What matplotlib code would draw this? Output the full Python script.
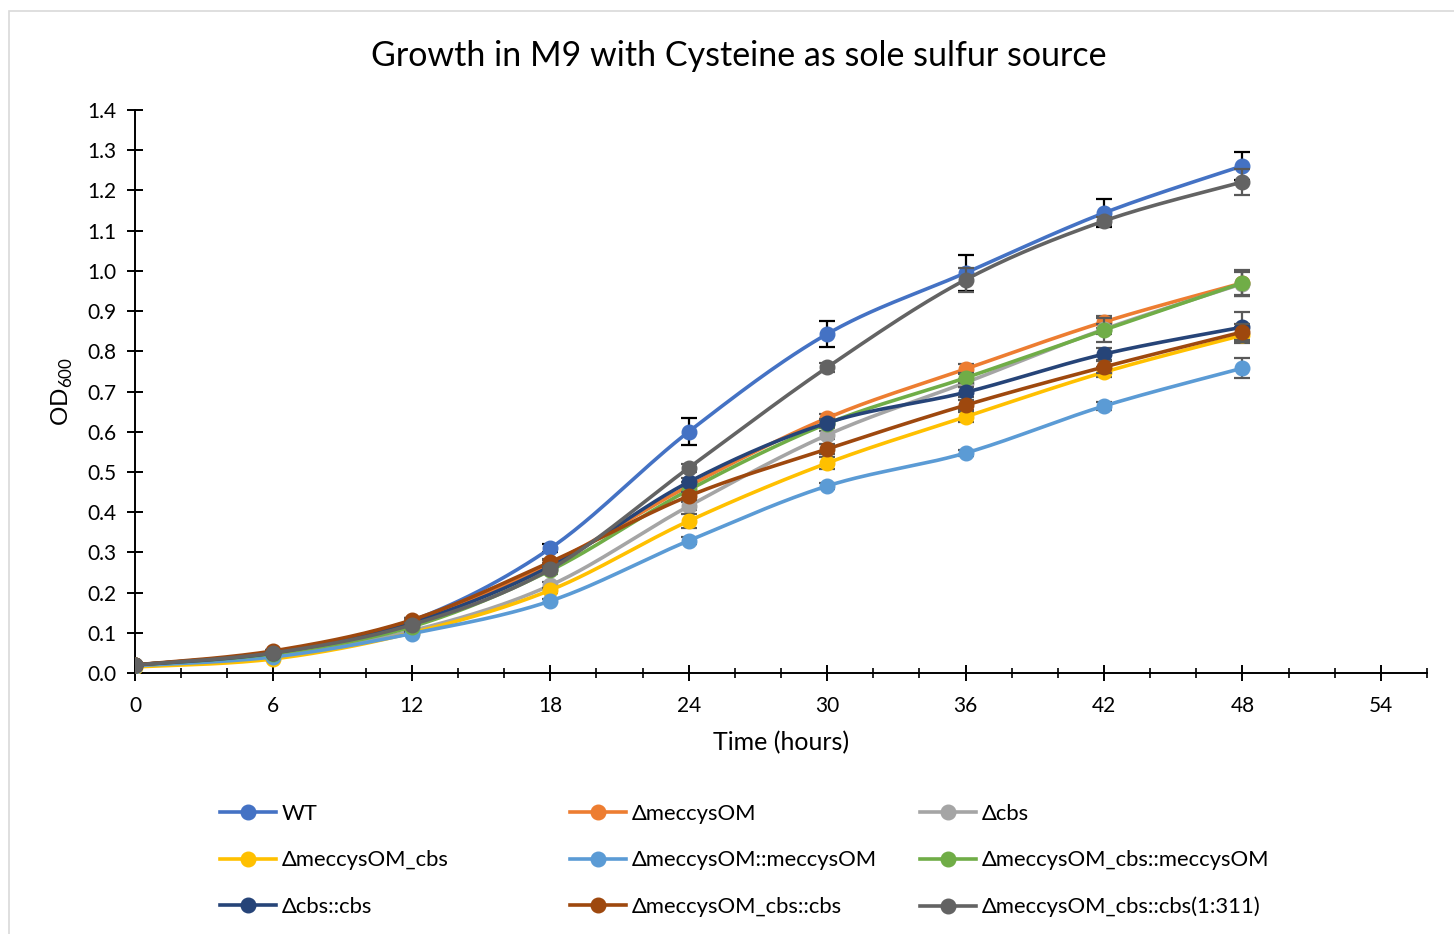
import numpy as np
import matplotlib
matplotlib.use("Agg")
import matplotlib.pyplot as plt
from matplotlib.patches import Rectangle

plt.rcParams['font.family'] = ['Lato', 'DejaVu Sans']
plt.rcParams['mathtext.fontset'] = 'custom'
plt.rcParams['mathtext.rm'] = 'Lato'

# dane
czas = [0, 6, 12, 18, 24, 30, 36, 42, 48]

nazwy = ["WT", "ΔmeccysOM", "Δcbs",
         "ΔmeccysOM_cbs", "ΔmeccysOM::meccysOM", "ΔmeccysOM_cbs::meccysOM",
         "Δcbs::cbs", "ΔmeccysOM_cbs::cbs", "ΔmeccysOM_cbs::cbs(1:311)"]

wt = [0.020, 0.052, 0.130, 0.310, 0.600, 0.843, 0.995, 1.144, 1.261]
meccysOM = [0.020, 0.052, 0.130, 0.272, 0.465, 0.634, 0.756, 0.873, 0.970]
cbs = [0.020, 0.045, 0.105, 0.218, 0.415, 0.592, 0.722, 0.855, 0.968]
meccysOM_cbs = [0.015, 0.035, 0.100, 0.206, 0.378, 0.522, 0.637, 0.748, 0.840]
meccysOM_comp = [0.018, 0.040, 0.098, 0.179, 0.329, 0.465, 0.547, 0.664, 0.758]
meccysOM_cbs_meccysOM = [0.020, 0.048, 0.115, 0.255, 0.455, 0.620, 0.734, 0.853, 0.970]
cbs_cbs = [0.020, 0.050, 0.125, 0.265, 0.475, 0.622, 0.698, 0.793, 0.860]
meccysOM_cbs_cbs = [0.020, 0.055, 0.132, 0.276, 0.440, 0.557, 0.666, 0.761, 0.848]
cbs_311 = [0.020, 0.050, 0.120, 0.258, 0.510, 0.760, 0.978, 1.124, 1.221]

# odchylenia (słupki błędów)
err_wt = [0.0, 0.004, 0.006, 0.010, 0.034, 0.033, 0.045, 0.035, 0.035]
err_meccysOM = [0.0, 0.003, 0.005, 0.008, 0.010, 0.010, 0.012, 0.015, 0.030]
err_cbs = [0.0, 0.003, 0.005, 0.008, 0.010, 0.010, 0.010, 0.012, 0.030]
err_meccysOM_cbs = [0.0, 0.003, 0.004, 0.006, 0.018, 0.015, 0.012, 0.013, 0.020]
err_meccysOM_comp = [0.0, 0.003, 0.004, 0.006, 0.008, 0.008, 0.008, 0.010, 0.025]
err_meccysOM_cbs_meccysOM = [0.0, 0.003, 0.005, 0.008, 0.010, 0.010, 0.012, 0.030, 0.033]
err_cbs_cbs = [0.0, 0.003, 0.005, 0.008, 0.010, 0.010, 0.012, 0.015, 0.038]
err_meccysOM_cbs_cbs = [0.0, 0.003, 0.005, 0.008, 0.010, 0.012, 0.012, 0.015, 0.020]
err_cbs_311 = [0.0, 0.003, 0.005, 0.008, 0.010, 0.012, 0.030, 0.010, 0.033]

serie = [wt, meccysOM, cbs, meccysOM_cbs, meccysOM_comp, meccysOM_cbs_meccysOM,
         cbs_cbs, meccysOM_cbs_cbs, cbs_311]
bledy = [err_wt, err_meccysOM, err_cbs, err_meccysOM_cbs, err_meccysOM_comp,
         err_meccysOM_cbs_meccysOM, err_cbs_cbs, err_meccysOM_cbs_cbs, err_cbs_311]
kolory = ['#4472C4', '#ED7D31', '#A5A5A5', '#FFC000', '#5B9BD5', '#70AD47',
          '#264478', '#9E480E', '#636363']


def wygladz(x, y, n=30):
    # gładka linia jak w Excelu (krzywe Beziera / Catmull-Rom)
    x = np.asarray(x, float)
    y = np.asarray(y, float)
    px, py = [], []
    for i in range(len(x) - 1):
        x0, y0 = (x[i - 1], y[i - 1]) if i > 0 else (x[i], y[i])
        x3, y3 = (x[i + 2], y[i + 2]) if i + 2 < len(x) else (x[i + 1], y[i + 1])
        c1x = x[i] + (x[i + 1] - x0) / 6
        c1y = y[i] + (y[i + 1] - y0) / 6
        c2x = x[i + 1] - (x3 - x[i]) / 6
        c2y = y[i + 1] - (y3 - y[i]) / 6
        t = np.linspace(0, 1, n)
        b0 = (1 - t) ** 3
        b1 = 3 * (1 - t) ** 2 * t
        b2 = 3 * (1 - t) * t ** 2
        b3 = t ** 3
        px.extend(b0 * x[i] + b1 * c1x + b2 * c2x + b3 * x[i + 1])
        py.extend(b0 * y[i] + b1 * c1y + b2 * c2y + b3 * y[i + 1])
    return px, py


fig = plt.figure(figsize=(14.54, 9.34), dpi=100)
fig.patches.append(Rectangle((9 / 1454, -0.05), 1.1, 1 - 11 / 934 + 0.05,
                             transform=fig.transFigure, fill=False,
                             edgecolor='#D9D9D9', linewidth=1.2))
ax = fig.add_axes([135 / 1454, 1 - 673 / 934, (1427 - 135) / 1454, (673 - 110) / 934])

uchwyty = []
for i in range(len(serie)):
    sx, sy = wygladz(czas, serie[i])
    kolor_bledu = 'black' if i == 0 else '#595959'
    ax.errorbar(czas, serie[i], yerr=bledy[i], fmt='none', ecolor=kolor_bledu,
                elinewidth=1.6, capsize=6, capthick=1.6, zorder=2 + i)
    ax.plot(sx, sy, color=kolory[i], linewidth=2.6, zorder=2 + i)
    ax.plot(czas, serie[i], 'o', color=kolory[i], markersize=10.5, zorder=2 + i)
    h, = ax.plot([], [], '-o', color=kolory[i], linewidth=2.6, markersize=10.5)
    uchwyty.append(h)

ax.set_xlim(0, 56)
ax.set_ylim(0, 1.4)
ax.set_xticks(range(0, 55, 6))
ax.set_xticks(range(0, 57, 2), minor=True)
ax.set_yticks(np.arange(0, 1.41, 0.1))
ax.set_yticklabels([f"{v:.1f}" for v in np.arange(0, 1.41, 0.1)])
ax.tick_params(axis='both', which='major', direction='inout', length=11, width=1.4,
               labelsize=15, color='black')
ax.tick_params(axis='x', which='minor', direction='inout', length=7, width=1.2)
ax.tick_params(axis='x', which='major', pad=11)
ax.tick_params(axis='y', which='major', pad=8)
for s in ['top', 'right']:
    ax.spines[s].set_visible(False)
ax.spines['left'].set_linewidth(1.4)
ax.spines['bottom'].set_linewidth(1.4)

fig.text(739 / 1454, 1 - 56 / 934, "Growth in M9 with Cysteine as sole sulfur source",
         ha='center', va='center', fontsize=24.5)
fig.text(781 / 1454, 1 - 743 / 934, "Time (hours)", ha='center', va='center', fontsize=18)
fig.text(62 / 1454, 1 - 391 / 934, r"OD$_\mathrm{600}$", ha='center', va='center',
         rotation=90, fontsize=17.5)

# legenda w trzech kolumnach o równej szerokości
for k, xk in enumerate([220, 570, 920]):
    idx = [k, k + 3, k + 6]
    leg = fig.legend([uchwyty[j] for j in idx], [nazwy[j] for j in idx],
                     loc='upper left', bbox_to_anchor=(xk / 1454, 1 - 804 / 934),
                     frameon=False, fontsize=15.8, handlelength=2.56, handletextpad=0.25,
                     labelspacing=1.2, borderpad=0, borderaxespad=0)

plt.savefig("out.png", dpi=100)
